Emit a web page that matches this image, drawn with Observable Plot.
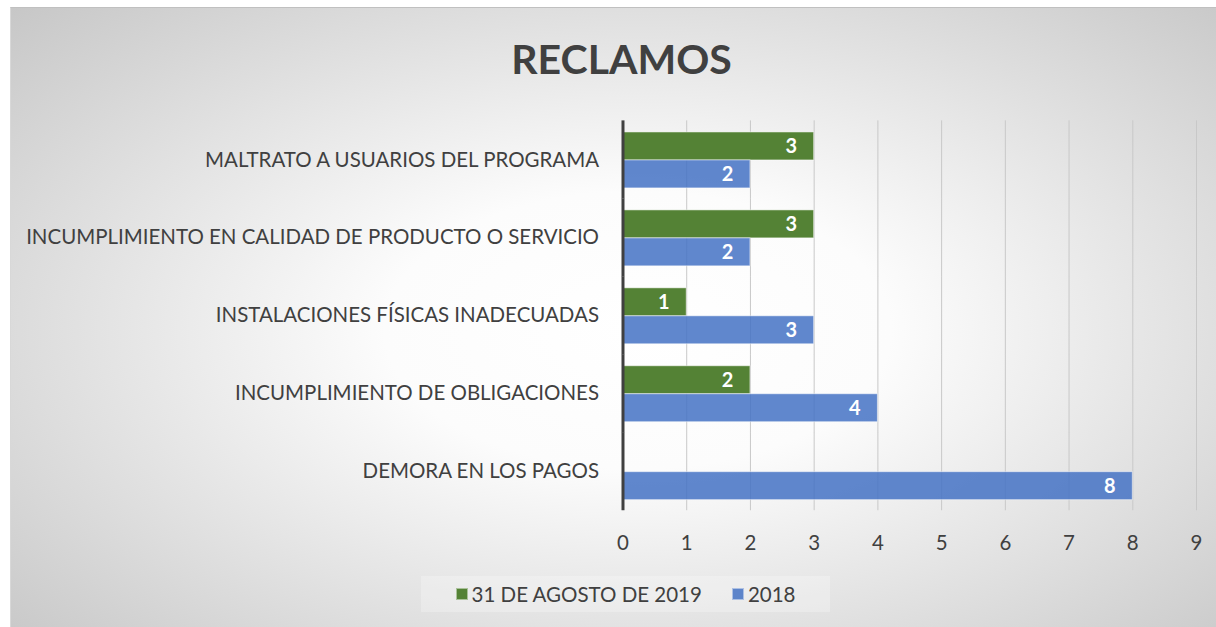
<!DOCTYPE html>
<html>
<head>
<meta charset="utf-8">
<script src="https://cdn.jsdelivr.net/npm/d3@7"></script>
<script src="https://cdn.jsdelivr.net/npm/@observablehq/plot@0.6"></script>
<style>
  html, body { margin: 0; padding: 0; background: #ffffff; }
  body { width: 1216px; height: 627px; position: relative; overflow: hidden; font-family: Lato, "Open Sans", sans-serif; }
  #panel {
    position: absolute; left: 10px; top: 7px; width: 1206px; height: 620px;
    background: radial-gradient(ellipse 75% 80% at 52% 52%, #ffffff 0%, #fcfcfc 28%, #c3c3c3 100%);
    border-top: 1px solid #c0c0c0; border-left: 1px solid #d8d8d8; box-sizing: border-box;
  }
  #title { height: 80px; box-sizing: border-box; padding-top: 29px; line-height: 44px; text-align: center;
    font-size: 41px; font-weight: 700; color: #404040; margin-left: 16px; }
  #chart svg { display: block; }
  #legend { height: 53px; display: flex; justify-content: center; align-items: center; }
  #legend .box { display: flex; align-items: center; padding: 6px 20px; background: rgba(255,255,255,0.25); margin-left: 24px; }
  #legend .item { display: flex; align-items: center; font-size: 20.5px; color: #404040; margin: 0 15px; }
  #legend .sw { width: 12px; height: 12px; margin-right: 4px; box-sizing: border-box; }
</style>
</head>
<body>
<div id="panel">
  <div id="title">RECLAMOS</div>
  <div id="chart"></div>
  <div id="legend"></div>
</div>
<script>
const categorias = [
  "MALTRATO A USUARIOS DEL PROGRAMA",
  "INCUMPLIMIENTO EN CALIDAD DE PRODUCTO O SERVICIO",
  "INSTALACIONES FÍSICAS INADECUADAS",
  "INCUMPLIMIENTO DE OBLIGACIONES",
  "DEMORA EN LOS PAGOS"
];
const series = ["31 DE AGOSTO DE 2019", "2018"];
const valores2019 = [3, 3, 1, 2, null];
const valores2018 = [2, 2, 3, 4, 8];
const xTicks = [0, 1, 2, 3, 4, 5, 6, 7, 8, 9];
const colores = ["#548235", "#4472C4"];

const datos2019 = categorias.map((c, i) => ({categoria: c, serie: series[0], valor: valores2019[i]})).filter(d => d.valor != null);
const datos2018 = categorias.map((c, i) => ({categoria: c, serie: series[1], valor: valores2018[i]})).filter(d => d.valor != null);
const todos = datos2019.concat(datos2018);

const chart = Plot.plot({
  width: 1206,
  height: 480,
  marginLeft: 612,
  marginRight: 20,
  marginTop: 31,
  marginBottom: 57,
  style: {fontFamily: "Lato, 'Open Sans', sans-serif", fontSize: "20.5px", color: "#404040", background: "transparent", overflow: "visible"},
  x: {domain: [0, 9], ticks: xTicks, tickSize: 0, tickPadding: 35, label: null, tickFormat: d => String(d)},
  y: {domain: series, padding: 0, axis: null},
  fy: {domain: categorias, paddingInner: 0.27, paddingOuter: 0.135, label: null, axis: "left", tickSize: 0, tickPadding: 24},
  color: {domain: series, range: colores},
  marks: [
    Plot.ruleX(xTicks.filter(d => d > 0), {x: d => d, stroke: "#c8c8c8", strokeWidth: 1, insetTop: -10.6, insetBottom: -10.6}),
    Plot.barX(datos2019, {x: "valor", y: "serie", fy: "categoria", fill: colores[0], stroke: "#ffffff", strokeOpacity: 0.5, strokeWidth: 1}),
    Plot.barX(datos2018, {x: "valor", y: "serie", fy: "categoria", fill: colores[1], fillOpacity: 0.85, stroke: "#ffffff", strokeOpacity: 0.5, strokeWidth: 1}),
    Plot.text(todos, {x: "valor", y: "serie", fy: "categoria", text: d => String(d.valor), dx: -23, fill: "#ffffff", fontWeight: 700, fontSize: 20, textAnchor: "middle"}),
    Plot.ruleX([0], {x: d => d, stroke: "#404040", strokeWidth: 3, insetTop: -10.6, insetBottom: -10.6})
  ]
});
document.getElementById("chart").appendChild(chart);

const legend = document.getElementById("legend");
const box = document.createElement("div");
box.className = "box";
series.forEach((s, i) => {
  const item = document.createElement("div");
  item.className = "item";
  const sw = document.createElement("div");
  sw.className = "sw";
  sw.style.background = colores[i];
  sw.style.opacity = i === 1 ? 0.85 : 1;
  sw.style.border = "1px solid rgba(255,255,255,0.5)";
  const t = document.createElement("span");
  t.textContent = s;
  item.appendChild(sw);
  item.appendChild(t);
  box.appendChild(item);
});
legend.appendChild(box);
</script>
</body>
</html>
